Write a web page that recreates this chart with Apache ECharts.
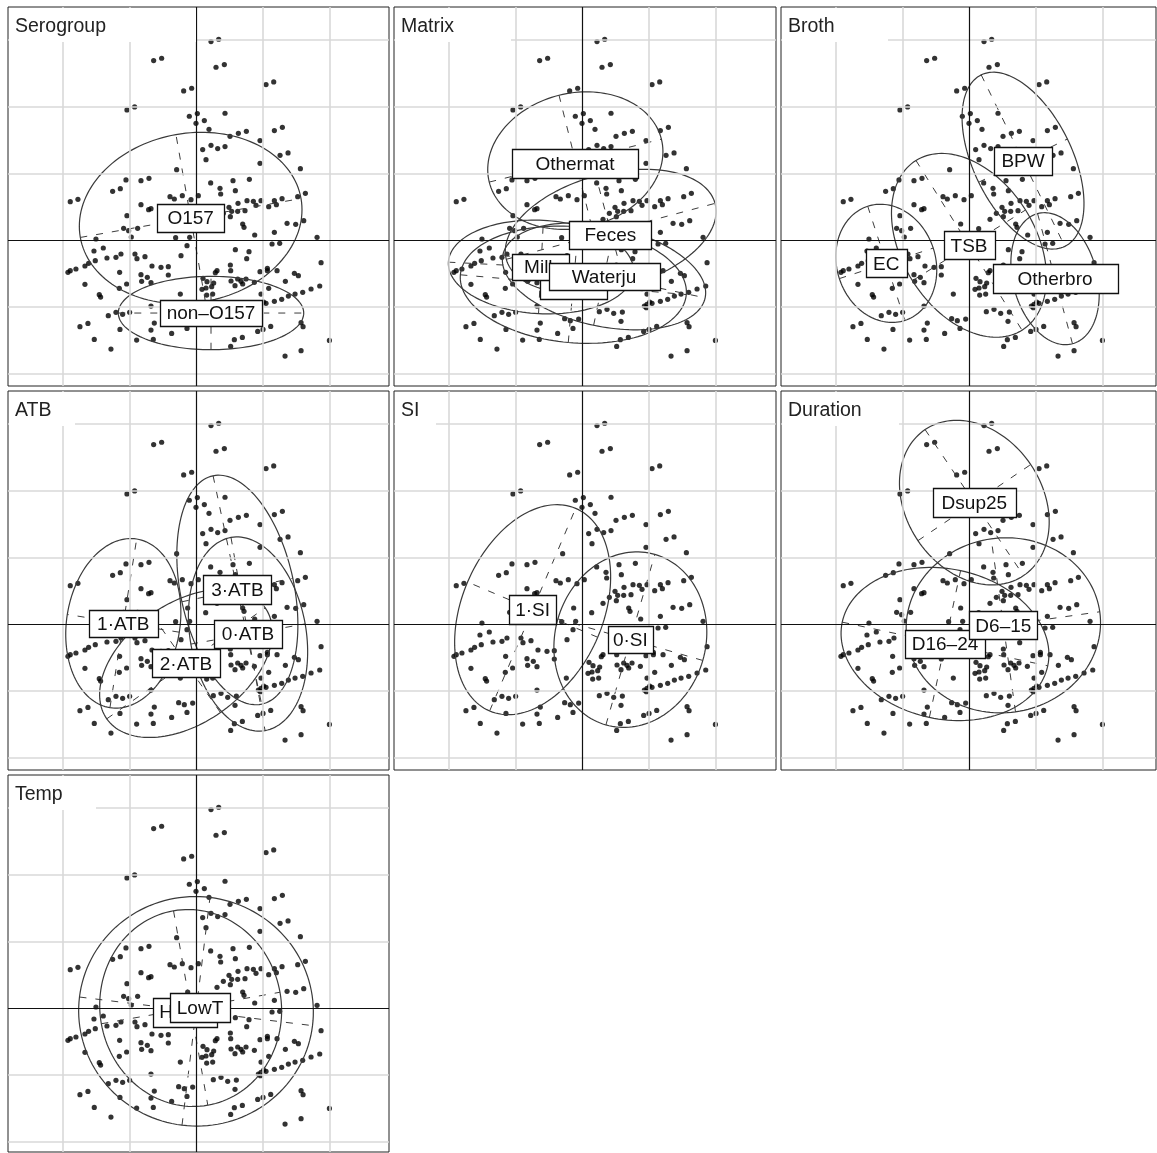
<!DOCTYPE html>
<html><head><meta charset="utf-8">
<script src="https://cdn.jsdelivr.net/npm/echarts@6/dist/echarts.min.js"></script>
<style>html,body{margin:0;padding:0;background:#fff}#c{width:1157px;height:1153px}</style>
</head><body><div id="c"></div>
<script>
// ---------- DATA ----------
const panelTitles = ['Serogroup','Matrix','Broth','ATB','SI','Duration','Temp'];
const gridXTicks = [-2,-1,1,2];
const gridYTicks = [-2,-1,1,2,3];

// observations (factorial coordinates, same cloud in every panel)
const points = [
[0.225,2.975],[0.34,3.01],[-0.635,2.69],[-0.515,2.725],[0.30,2.59],[0.425,2.63],
[-0.185,2.235],[-0.065,2.275],[1.05,2.33],[1.165,2.37],[-1.035,1.95],[-0.92,1.995],
[-0.10,1.855],[0.02,1.895],[0.435,1.90],[0.0,1.75],[0.125,1.79],[0.195,1.66],
[0.51,1.555],[0.635,1.60],[0.755,1.63],[1.175,1.64],[1.295,1.69],[0.96,1.49],
[0.225,1.42],[0.325,1.37],[0.10,1.355],[0.435,1.40],[0.15,1.205],[1.26,1.27],
[1.38,1.305],[0.96,1.15],[1.565,1.07],[-0.29,1.055],[-1.05,0.90],[-0.825,0.89],
[-0.705,0.925],[0.80,0.91],[0.555,0.89],[-1.25,0.73],[-1.135,0.77],[0.36,0.775],
[0.59,0.74],[-1.885,0.575],[-1.77,0.61],[-0.39,0.65],[-0.325,0.615],[-0.205,0.665],
[-0.075,0.605],[0.035,0.665],[1.525,0.65],[1.64,0.70],[0.765,0.59],[0.86,0.58],
[0.975,0.59],[1.175,0.59],[1.29,0.62],[1.09,0.50],[1.205,0.53],[0.90,0.52],
[0.495,0.49],[0.535,0.43],[0.625,0.43],[0.735,0.44],[-0.825,0.53],[-0.71,0.455],
[-0.675,0.47],[-1.035,0.365],[0.315,0.31],[0.515,0.35],[-0.125,0.24],[0.145,0.17],
[0.70,0.24],[1.365,0.25],[1.495,0.235],[1.615,0.29],[0.88,0.075],[1.175,0.115],
[1.815,0.04],[-1.50,0.015],[-1.085,0.175],[-1.01,0.14],[-0.875,0.175],[-0.97,0.045],
[-0.095,0.04],[-1.53,-0.165],[-1.39,-0.12],[-1.335,-0.27],[-1.20,-0.26],[-1.125,-0.21],
[-0.915,-0.21],[-0.765,-0.25],[-1.51,-0.31],[-1.61,-0.35],[-1.665,-0.39],[-1.80,-0.435],
[-1.885,-0.46],[-1.92,-0.485],[-0.66,-0.39],[-0.525,-0.41],[-0.415,-0.40],[1.14,-0.06],
[1.255,-0.05],[1.875,-0.34],[0.315,-0.46],[0.29,-0.49],[0.52,-0.46],[0.96,-0.475],
[1.07,-0.46],[1.215,-0.46],[-1.145,-0.485],[-0.825,-0.52],[-0.815,-0.62],[-0.675,-0.64],
[-1.665,-0.665],[-1.15,-0.725],[-1.04,-0.66],[-0.225,-0.235],[0.15,-0.72],[0.235,-0.70],
[0.16,-0.825],[0.25,-0.81],[0.09,-0.74],[0.625,-0.585],[0.675,-0.62],[0.75,-0.585],
[0.70,-0.66],[0.875,-0.635],[0.975,-0.81],[1.09,-0.725],[1.34,-0.62],[1.475,-0.50],
[1.535,-0.535],[1.855,-0.69],[1.725,-0.735],[1.60,-0.785],[1.485,-0.81],[1.385,-0.84],
[1.285,-0.89],[1.175,-0.92],[1.05,-0.95],[0.975,-0.965],[1.015,-0.93],[0.935,-0.99],
[0.965,-1.015],[-1.45,-0.82],[-1.43,-0.855],[-0.235,-0.81],[-0.675,-0.99],[-1.315,-1.135],
[-1.20,-1.085],[-1.10,-1.115],[-0.995,-1.085],[0.26,-1.075],[0.375,-1.04],[0.475,-1.10],
[0.605,-1.08],[-0.26,-1.18],[-0.175,-1.21],[-0.05,-1.185],[0.585,-1.22],[-1.74,-1.30],
[-1.62,-1.25],[-0.625,-1.245],[-0.675,-1.35],[-0.365,-1.40],[-0.135,-1.325],[0.925,-1.37],
[1.005,-1.34],[1.12,-1.295],[1.575,-1.24],[1.605,-1.30],[-1.525,-1.49],[-0.89,-1.50],
[-0.64,-1.49],[0.575,-1.495],[0.695,-1.46],[0.52,-1.595],[-1.275,-1.635],[2.0,-1.505],
[1.575,-1.66],[1.335,-1.74],[0.59,-0.145],[0.795,-0.175],[0.76,-0.28],[0.515,-0.375],
[1.07,-0.425],[0.525,-0.615],[0.585,-0.685],[0.105,-0.575],[0.165,-0.625],[0.265,-0.645],
[0.63,0.55],[0.41,0.40],[0.72,0.19],[-0.305,0.035],[-0.135,-0.085],[-0.885,-0.28],
[-0.415,-0.525],[-0.73,-0.56],[-1.14,-1.34],[0.22,0.855],[0.37,0.69]
];

// groups: ellipse = [centreX, centreY, semiAxisA, semiAxisB, angleDeg]; label = [x, y]
const serogroupNames = ['O157','non\u2013O157'];
const serogroupEllipses = [[-0.08,0.33,1.68,1.27,10],[0.225,-1.095,1.39,0.55,0]];
const serogroupLabels = [[-0.08,0.33],[0.225,-1.095]];

const matrixNames = ['Othermat','Feces','Meat','Milk','Waterju'];
const matrixEllipses = [[-0.10,1.19,1.33,1.01,14],[0.43,0.13,1.62,0.86,15],[-0.13,-0.67,1.70,0.87,-5],[-0.615,-0.405,1.39,0.70,-3],[0.33,-0.545,1.55,0.75,-12]];
const matrixLabels = [[-0.105,1.145],[0.425,0.08],[-0.13,-0.67],[-0.615,-0.405],[0.33,-0.545]];

const brothNames = ['BPW','TSB','EC','Otherbro'];
const brothEllipses = [[0.81,1.19,1.43,0.74,-64],[0,-0.08,1.5,1.0,-58],[-1.24,-0.35,0.9,0.74,-72],[1.29,-0.58,1.01,0.63,-75]];
const brothLabels = [[0.81,1.19],[0,-0.08],[-1.24,-0.35],[1.29,-0.58]];

const atbNames = ['1\u00b7ATB','2\u00b7ATB','3\u00b7ATB','0\u00b7ATB'];
const atbEllipses = [[-1.09,0.01,1.28,0.85,81],[-0.15,-0.59,1.45,0.9,35],[0.62,0.51,1.75,0.85,-78],[0.78,-0.15,1.47,0.87,-80]];
const atbLabels = [[-1.09,0.01],[-0.15,-0.59],[0.62,0.51],[0.78,-0.15]];

const siNames = ['1\u00b7SI','0\u00b7SI'];
const siEllipses = [[-0.74,0.215,1.65,1.06,67],[0.725,-0.235,1.33,1.13,74]];
const siLabels = [[-0.74,0.215],[0.725,-0.235]];

const durationNames = ['Dsup25','D16\u201324','D6\u201315'];
const durationEllipses = [[0.08,1.82,1.32,1.02,-56],[-0.36,-0.30,1.575,1.125,-12],[0.515,-0.02,1.46,1.31,8]];
const durationLabels = [[0.08,1.82],[-0.36,-0.30],[0.515,-0.02]];

const tempNames = ['HighT','LowT'];
const tempEllipses = [[0.0,-0.05,1.76,1.72,-7],[-0.08,0.0,1.48,1.36,-80]];
const tempLabels = [[-0.17,-0.06],[0.06,0.01]];

// ---------- STYLE / LAYOUT ----------
const UNIT = 66.7, OX = 188, OY = 233;
const layout = [ // left, top, width, height, title box width
 [8,7,381,379,188],[394,7,382,379,117],[781,7,375,379,107],
 [8,391,381,379,67],[394,391,382,379,42],[781,391,375,379,118],
 [8,775,381,377,88]];
const boxSizes = [
 [[67,28],[102,26]],
 [[126,29],[82,28],[67,28],[57,26],[111,27]],
 [[58,28],[51,28],[41,28],[125,29]],
 [[69,27],[68,28],[68,29],[68,28]],
 [[47,29],[45,27]],
 [[83,29],[80,28],[68,28]],
 [[64,29],[60,29]]];
const FONT = '"Liberation Sans", Arial, sans-serif';

const panels = [
 [serogroupNames, serogroupEllipses, serogroupLabels],
 [matrixNames, matrixEllipses, matrixLabels],
 [brothNames, brothEllipses, brothLabels],
 [atbNames, atbEllipses, atbLabels],
 [siNames, siEllipses, siLabels],
 [durationNames, durationEllipses, durationLabels],
 [tempNames, tempEllipses, tempLabels]];

const grid = [], xAxis = [], yAxis = [], series = [], graphic = [];
panels.forEach((P, i) => {
  const L = layout[i];
  grid.push({left:L[0], top:L[1], width:L[2], height:L[3], show:true, borderColor:'#222', borderWidth:1, backgroundColor:'#fff', containLabel:false});
  const common = {gridIndex:i, type:'value', axisLine:{show:false}, axisTick:{show:false}, axisLabel:{show:false}, splitLine:{show:false}};
  xAxis.push(Object.assign({min:-OX/UNIT, max:(L[2]-OX)/UNIT}, common));
  yAxis.push(Object.assign({min:-(L[3]-OY)/UNIT, max:OY/UNIT}, common));

  const ml = [];
  gridXTicks.forEach(v => ml.push({xAxis:v, lineStyle:{color:'#d9d9d9', width:1.6, type:'solid'}}));
  gridYTicks.forEach(v => ml.push({yAxis:v, lineStyle:{color:'#d9d9d9', width:1.6, type:'solid'}}));
  ml.push({xAxis:0, lineStyle:{color:'#111', width:1.2, type:'solid'}});
  ml.push({yAxis:0, lineStyle:{color:'#111', width:1.2, type:'solid'}});
  series.push({type:'scatter', xAxisIndex:i, yAxisIndex:i, data:[[0,0]], symbolSize:0, silent:true, z:1,
    markLine:{silent:true, symbol:['none','none'], label:{show:false}, animation:false, data:ml}});

  series.push({type:'scatter', xAxisIndex:i, yAxisIndex:i, data:points, symbol:'circle', symbolSize:5.2,
    itemStyle:{color:'#000'}, z:3, silent:true, animation:false});

  const names = P[0], ells = P[1], labs = P[2], boxes = boxSizes[i];
  series.push({type:'custom', xAxisIndex:i, yAxisIndex:i, data:ells, z:4, silent:true, clip:true, animation:false,
    encode:{x:0, y:1},
    renderItem:function(params, api){
      const cx=api.value(0), cy=api.value(1), a=api.value(2), b=api.value(3), th=api.value(4)*Math.PI/180;
      const c=Math.cos(th), s=Math.sin(th);
      const pts=[];
      for(let k=0;k<=144;k++){const t=2*Math.PI*k/144; const ex=a*Math.cos(t), ey=b*Math.sin(t);
        pts.push(api.coord([cx+ex*c-ey*s, cy+ex*s+ey*c]));}
      const A1=api.coord([cx-a*c, cy-a*s]), A2=api.coord([cx+a*c, cy+a*s]);
      const B1=api.coord([cx+b*s, cy-b*c]), B2=api.coord([cx-b*s, cy+b*c]);
      const dash={stroke:'#3c3c3c', lineWidth:1, lineDash:[7,9], fill:null};
      return {type:'group', children:[
        {type:'polygon', shape:{points:pts}, style:{fill:null, stroke:'#3a3a3a', lineWidth:1.2}},
        {type:'line', shape:{x1:A1[0],y1:A1[1],x2:A2[0],y2:A2[1]}, style:dash},
        {type:'line', shape:{x1:B1[0],y1:B1[1],x2:B2[0],y2:B2[1]}, style:dash}
      ]};
    }});

  series.push({type:'custom', xAxisIndex:i, yAxisIndex:i, data:labs, z:5, silent:true, clip:false, animation:false,
    encode:{x:0, y:1},
    renderItem:function(params, api){
      const p=api.coord([api.value(0), api.value(1)]);
      const sz=boxes[params.dataIndex];
      return {type:'group', children:[
        {type:'rect', shape:{x:Math.round(p[0]-sz[0]/2)+0.5, y:Math.round(p[1]-sz[1]/2)+0.5, width:sz[0], height:sz[1]},
          style:{fill:'#fff', stroke:'#111', lineWidth:1.3}},
        {type:'text', x:p[0], y:p[1]+1, style:{text:names[params.dataIndex], fontSize:19, fontFamily:FONT, fill:'#111',
          align:'center', verticalAlign:'middle', textAlign:'center', textVerticalAlign:'middle'}}
      ]};
    }});

  graphic.push({type:'rect', z:100, silent:true, shape:{x:L[0]+1, y:L[1]+1, width:L[4]-1, height:34}, style:{fill:'#fff'}});
  graphic.push({type:'text', z:101, silent:true, x:L[0]+7, y:L[1]+20,
    style:{text:panelTitles[i], fontSize:19.5, fontFamily:FONT, fill:'#222', verticalAlign:'middle', textVerticalAlign:'middle'}});
});

const chart = echarts.init(document.getElementById('c'), null, {renderer:'canvas', width:1157, height:1153});
chart.setOption({backgroundColor:'#fff', animation:false, grid, xAxis, yAxis, series, graphic});
</script></body></html>
